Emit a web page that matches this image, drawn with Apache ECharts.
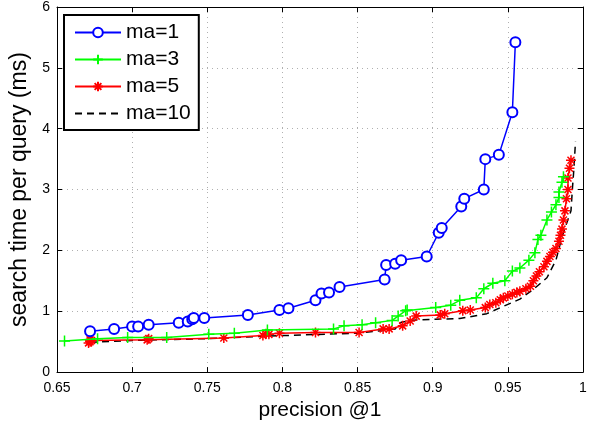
<!DOCTYPE html>
<html>
<head>
<meta charset="utf-8">
<script src="https://cdn.jsdelivr.net/npm/echarts@6/dist/echarts.min.js"></script>
<style>
  html, body { margin: 0; padding: 0; background: #fff; }
  #chart { width: 600px; height: 426px; }
</style>
</head>
<body>
<div id="chart"></div>
<script>
// Precision@1 vs. search time, one curve per "ma" setting (MATLAB-style figure).
const xTicks = [0.65, 0.7, 0.75, 0.8, 0.85, 0.9, 0.95, 1];
const yTicks = [0, 1, 2, 3, 4, 5, 6];
const seriesNames = ["ma=1", "ma=3", "ma=5", "ma=10"];

const ma1 = [
  [0.672, 0.67], [0.688, 0.71], [0.700, 0.75], [0.704, 0.75], [0.711, 0.78],
  [0.731, 0.81], [0.737, 0.83], [0.740, 0.87], [0.741, 0.89], [0.748, 0.89],
  [0.777, 0.94], [0.798, 1.02], [0.804, 1.05], [0.822, 1.18], [0.826, 1.29],
  [0.831, 1.31], [0.838, 1.40], [0.868, 1.52], [0.869, 1.76], [0.875, 1.78],
  [0.879, 1.84], [0.896, 1.90], [0.904, 2.29], [0.906, 2.37], [0.919, 2.72],
  [0.921, 2.85], [0.934, 3.00], [0.935, 3.50], [0.944, 3.57], [0.953, 4.27],
  [0.955, 5.42]
];

const ma3 = [
  [0.655, 0.51], [0.677, 0.55], [0.697, 0.57], [0.723, 0.57], [0.751, 0.62],
  [0.768, 0.64], [0.790, 0.69], [0.834, 0.71], [0.841, 0.76], [0.853, 0.78],
  [0.862, 0.81], [0.873, 0.85], [0.877, 0.92], [0.882, 1.01], [0.883, 1.02],
  [0.902, 1.06], [0.912, 1.10], [0.918, 1.18], [0.929, 1.22], [0.934, 1.37],
  [0.940, 1.46], [0.948, 1.50], [0.953, 1.66], [0.958, 1.71], [0.964, 1.84],
  [0.968, 1.96], [0.970, 2.18], [0.972, 2.25], [0.976, 2.50], [0.979, 2.63],
  [0.982, 2.75], [0.984, 2.87], [0.984, 2.96], [0.986, 3.12], [0.987, 3.21]
];

const ma5 = [
  [0.671, 0.48], [0.672, 0.50], [0.673, 0.52], [0.672, 0.53], [0.710, 0.53],
  [0.711, 0.55], [0.761, 0.56], [0.787, 0.60], [0.789, 0.63], [0.791, 0.62],
  [0.798, 0.64], [0.822, 0.65], [0.851, 0.65], [0.867, 0.71], [0.871, 0.71],
  [0.880, 0.76], [0.885, 0.84], [0.889, 0.92], [0.905, 0.94], [0.908, 0.96],
  [0.920, 1.01], [0.925, 1.02], [0.935, 1.06], [0.938, 1.11], [0.942, 1.14],
  [0.945, 1.19], [0.947, 1.22], [0.950, 1.25], [0.953, 1.28], [0.956, 1.31],
  [0.958, 1.33], [0.962, 1.37], [0.965, 1.41], [0.967, 1.50], [0.969, 1.58],
  [0.971, 1.65], [0.974, 1.73], [0.976, 1.82], [0.978, 1.90], [0.980, 1.97],
  [0.982, 2.03], [0.984, 2.15], [0.985, 2.25], [0.986, 2.35], [0.987, 2.50],
  [0.988, 2.65], [0.989, 2.85], [0.990, 3.00], [0.990, 3.19], [0.991, 3.35],
  [0.992, 3.48]
];

const ma10 = [
  [0.672, 0.49], [0.700, 0.52], [0.750, 0.55], [0.800, 0.60], [0.850, 0.64],
  [0.866, 0.68], [0.875, 0.71], [0.879, 0.82], [0.890, 0.86], [0.918, 0.88],
  [0.936, 0.96], [0.947, 1.08], [0.958, 1.20], [0.967, 1.36], [0.976, 1.55],
  [0.982, 1.84], [0.986, 2.22], [0.989, 2.44], [0.992, 2.65], [0.993, 3.03],
  [0.994, 3.36], [0.995, 3.79]
];

const FONT = "'Liberation Sans', Arial, Helvetica, sans-serif";
const PLUS = "path://M0,-1L0,1M-1,0L1,0";
const STAR = "path://M0,-1L0,1M-1,0L1,0M-0.7,-0.7L0.7,0.7M-0.7,0.7L0.7,-0.7";

const gridLine = { show: true, lineStyle: { color: "#b0b0b0", type: [1, 4], width: 1 } };
const tickIn = { show: true, inside: true, length: 5, lineStyle: { color: "#000" } };
const axisLine = { show: true, onZero: false, lineStyle: { color: "#000", width: 1 } };

const chart = echarts.init(document.getElementById("chart"), null, { renderer: "canvas" });

chart.setOption({
  animation: false,
  backgroundColor: "#fff",
  textStyle: { fontFamily: FONT },
  grid: { left: 57, right: 17, top: 7, bottom: 49 },
  legend: {
    orient: "vertical",
    left: 64, top: 15,
    data: [
      seriesNames[0], seriesNames[1], seriesNames[2],
      // dashed line only, no marker
      { name: seriesNames[3], itemStyle: { color: "rgba(0,0,0,0)", borderWidth: 0 } }
    ],
    itemWidth: 46, itemHeight: 12, itemGap: 6,
    padding: [7, 8, 6, 10],
    borderColor: "#000", borderWidth: 2, backgroundColor: "#fff",
    textStyle: { fontSize: 21, color: "#000", fontFamily: FONT, lineHeight: 20 }
  },
  xAxis: [
    {
      type: "value", position: "bottom",
      min: xTicks[0], max: xTicks[xTicks.length - 1], interval: 0.05,
      axisLine, axisTick: tickIn, splitLine: gridLine,
      axisLabel: { color: "#000", fontSize: 14, margin: 9, fontFamily: FONT },
      name: "precision @1", nameLocation: "middle", nameGap: 22,
      nameTextStyle: { fontSize: 21, color: "#000", fontFamily: FONT }
    },
    {
      type: "value", position: "top",
      min: xTicks[0], max: xTicks[xTicks.length - 1], interval: 0.05,
      axisLine, axisTick: tickIn, splitLine: { show: false }, axisLabel: { show: false }
    }
  ],
  yAxis: [
    {
      type: "value", position: "left",
      min: yTicks[0], max: yTicks[yTicks.length - 1], interval: 1,
      axisLine, axisTick: tickIn, splitLine: gridLine,
      axisLabel: { color: "#000", fontSize: 14, margin: 7, fontFamily: FONT },
      name: "search time per query (ms)", nameLocation: "middle", nameGap: 22,
      nameTextStyle: { fontSize: 23, color: "#000", fontFamily: FONT }
    },
    {
      type: "value", position: "right",
      min: yTicks[0], max: yTicks[yTicks.length - 1], interval: 1,
      axisLine, axisTick: tickIn, splitLine: { show: false }, axisLabel: { show: false }
    }
  ],
  series: [
    {
      name: seriesNames[0], type: "line", data: ma1,
      symbol: "emptyCircle", symbolSize: 10,
      lineStyle: { color: "#0000ff", width: 1.5 },
      itemStyle: { color: "#0000ff", borderColor: "#0000ff", borderWidth: 1.5 },
      z: 5
    },
    {
      name: seriesNames[1], type: "line", data: ma3,
      symbol: PLUS, symbolSize: 11,
      lineStyle: { color: "#00ff00", width: 1.5 },
      itemStyle: { color: "#00ff00", borderColor: "#00ff00", borderWidth: 1.5 },
      z: 4
    },
    {
      name: seriesNames[2], type: "line", data: ma5,
      symbol: STAR, symbolSize: 10,
      lineStyle: { color: "#ff0000", width: 1.5 },
      itemStyle: { color: "#ff0000", borderColor: "#ff0000", borderWidth: 1.5 },
      z: 3
    },
    {
      name: seriesNames[3], type: "line", data: ma10,
      symbol: "none",
      lineStyle: { color: "#000", width: 1.5, type: [7, 5] },
      itemStyle: { color: "#000" },
      z: 2
    }
  ]
});
</script>
</body>
</html>
